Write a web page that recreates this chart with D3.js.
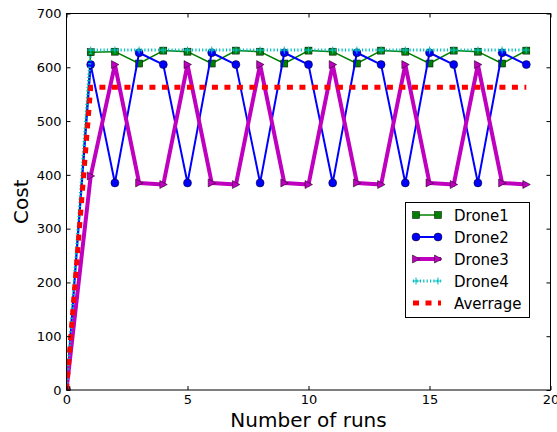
<!DOCTYPE html>
<html>
<head>
<meta charset="utf-8">
<script src="https://cdn.jsdelivr.net/npm/d3@7"></script>
<style>
  html, body { margin: 0; padding: 0; background: #fff; }
  svg { display: block; font-family: "DejaVu Sans", sans-serif; }
</style>
</head>
<body>
<svg id="chart" width="557" height="432"></svg>
<script>
// Cost per run for each drone, plus the running average
const runs = d3.range(0, 20);
const drone1 = [0, 628, 629, 607, 631, 629, 607, 631, 629, 607, 631, 629, 607, 631, 629, 607, 631, 629, 607, 631];
const drone2 = [0, 605, 385, 627, 605, 385, 627, 605, 385, 627, 605, 385, 627, 605, 385, 627, 605, 385, 627, 605];
const drone3 = [0, 398, 605, 385, 382, 605, 385, 382, 605, 385, 382, 605, 385, 382, 605, 385, 382, 605, 385, 382];
const drone4 = [0, 632, 632, 632, 632, 632, 632, 632, 632, 632, 632, 632, 632, 632, 632, 632, 632, 632, 632, 632];
const average = [0, 563, 563, 563, 563, 563, 563, 563, 563, 563, 563, 563, 563, 563, 563, 563, 563, 563, 563, 563];
const xTicks = [0, 5, 10, 15, 20];
const yTicks = [0, 100, 200, 300, 400, 500, 600, 700];
const seriesNames = ["Drone1", "Drone2", "Drone3", "Drone4", "Averrage"];

const svg = d3.select("#chart");
const plotLeft = 66.5, plotRight = 550.5, plotTop = 13.5, plotBottom = 390;

const x = d3.scaleLinear().domain([0, 20]).range([plotLeft, plotRight]);
const y = d3.scaleLinear().domain([0, 700]).range([plotBottom, plotTop]);

const styles = [
  { data: drone1, color: "#008000", width: 1.5, marker: "square" },
  { data: drone2, color: "#0000ff", width: 2, marker: "circle" },
  { data: drone3, color: "#bf00bf", width: 4, marker: "triangle" },
  { data: drone4, color: "#00bfbf", width: 3, marker: "plus", dash: "1.2,2.2" },
  { data: average, color: "#ff0000", width: 5, marker: null, dash: "6,6.5" }
];

svg.append("defs").append("clipPath").attr("id", "plotclip")
  .append("rect").attr("x", plotLeft).attr("y", plotTop - 8)
  .attr("width", plotRight - plotLeft + 8).attr("height", plotBottom - plotTop + 8);

const line = d3.line().x((d, i) => x(runs[i])).y(d => y(d));

function drawMarker(g, kind, cx, cy, color) {
  if (kind === "square") {
    g.append("rect").attr("x", cx - 3.5).attr("y", cy - 3.5).attr("width", 7).attr("height", 7)
      .attr("fill", color).attr("stroke", "#000").attr("stroke-width", 0.5);
  } else if (kind === "circle") {
    g.append("circle").attr("cx", cx).attr("cy", cy).attr("r", 4)
      .attr("fill", color).attr("stroke", "#000").attr("stroke-width", 0.5);
  } else if (kind === "triangle") {
    g.append("path").attr("d", `M${cx + 4},${cy} L${cx - 3.5},${cy - 4} L${cx - 3.5},${cy + 4} Z`)
      .attr("fill", color).attr("stroke", "#000").attr("stroke-width", 0.5);
  } else if (kind === "plus") {
    g.append("path").attr("d", `M${cx - 3.5},${cy} H${cx + 3.5} M${cx},${cy - 3.5} V${cy + 3.5}`)
      .attr("stroke", color).attr("stroke-width", 1);
  }
}

const plot = svg.append("g").attr("clip-path", "url(#plotclip)");
styles.forEach(s => {
  const g = plot.append("g");
  g.append("path").datum(s.data).attr("d", line)
    .attr("fill", "none").attr("stroke", s.color).attr("stroke-width", s.width)
    .attr("stroke-dasharray", s.dash || null).attr("stroke-linejoin", "round");
  if (s.marker) s.data.forEach((v, i) => drawMarker(g, s.marker, x(runs[i]), y(v), s.color));
});

// frame and inward ticks on all four sides
const axes = svg.append("g");
axes.append("rect").attr("x", plotLeft).attr("y", plotTop)
  .attr("width", plotRight - plotLeft).attr("height", plotBottom - plotTop)
  .attr("fill", "none").attr("stroke", "#000").attr("stroke-width", 1);

const xAxisB = d3.axisBottom(x).tickValues(xTicks).tickSizeInner(-4).tickSizeOuter(0).tickPadding(5);
const xAxisT = d3.axisTop(x).tickValues(xTicks).tickSizeInner(-4).tickSizeOuter(0).tickFormat("");
const yAxisL = d3.axisLeft(y).tickValues(yTicks).tickSizeInner(-4).tickSizeOuter(0).tickPadding(5);
const yAxisR = d3.axisRight(y).tickValues(yTicks).tickSizeInner(-4).tickSizeOuter(0).tickFormat("");

[[xAxisB, `translate(0,${plotBottom})`], [xAxisT, `translate(0,${plotTop})`],
 [yAxisL, `translate(${plotLeft},0)`], [yAxisR, `translate(${plotRight},0)`]].forEach(([ax, tr]) => {
  const g = axes.append("g").attr("transform", tr).call(ax);
  g.select(".domain").remove();
  g.selectAll("text").attr("font-size", 13).attr("font-family", "DejaVu Sans, sans-serif").attr("fill", "#000");
});

svg.append("text").attr("x", (plotLeft + plotRight) / 2).attr("y", 427).attr("text-anchor", "middle")
  .attr("font-size", 20).text("Number of runs");
svg.append("text").attr("transform", `translate(28,${(plotTop + plotBottom) / 2}) rotate(-90)`)
  .attr("text-anchor", "middle").attr("font-size", 20).text("Cost");

// legend
const lg = svg.append("g");
lg.append("rect").attr("x", 405.5).attr("y", 202.5).attr("width", 124).attr("height", 115)
  .attr("fill", "#fff").attr("stroke", "#000").attr("stroke-width", 1);
styles.forEach((s, i) => {
  const cy = 215 + i * 22;
  const g = lg.append("g");
  g.append("line").attr("x1", 413).attr("x2", 441).attr("y1", cy).attr("y2", cy)
    .attr("stroke", s.color).attr("stroke-width", s.width).attr("stroke-dasharray", s.dash || null);
  if (s.marker) { drawMarker(g, s.marker, 416, cy, s.color); drawMarker(g, s.marker, 438, cy, s.color); }
  g.append("text").attr("x", 454).attr("y", cy + 5.5).attr("font-size", 15).text(seriesNames[i]);
});
</script>
</body>
</html>
